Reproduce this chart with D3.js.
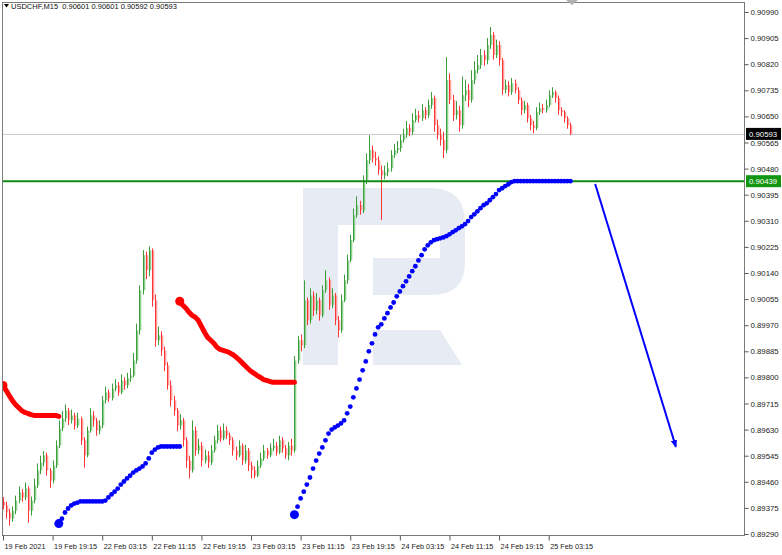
<!DOCTYPE html>
<html><head><meta charset="utf-8">
<script src="https://cdn.jsdelivr.net/npm/d3@7"></script>
<style>
body{margin:0;background:#fff;}
svg{display:block;font-family:"Liberation Sans",Arial,sans-serif;}
</style>
</head><body>
<svg id="c" width="782" height="555"></svg>
<script>
// ---- data (prices in points, 1 point = 0.00001) ----
const POINT = 1e-5;
const symbolTitle = "USDCHF,M15  0.90601 0.90601 0.90592 0.90593";
// each candle = 2 x M15 bars
const opens = [89395,89383,89360,89340,89366,89399,89425,89409,89438,89366,
89399,89448,89497,89523,89546,89497,89464,89513,89578,89634,
89666,89692,89660,89676,89643,89666,89595,89546,89627,89676,
89660,89627,89643,89725,89751,89732,89764,89774,89751,89790,
89774,89797,89806,89855,89953,90084,90198,90149,90214,90051,
89921,89937,89888,89839,89774,89725,89692,89643,89660,89595,
89529,89497,89627,89562,89578,89529,89546,89523,89562,89595,
89627,89601,89627,89611,89595,89562,89546,89578,89529,89562,
89513,89497,89480,89513,89536,89562,89546,89569,89578,89555,
89595,89569,89546,89578,89562,89855,89921,89904,90051,89986,
90067,90018,90051,90002,90084,90116,90035,90067,89986,89953,
90051,90116,90181,90247,90328,90361,90344,90442,90507,90540,
90514,90507,90475,90458,90468,90481,90524,90540,90547,90573,
90589,90612,90599,90638,90654,90644,90670,90654,90687,90710,
90621,90589,90573,90540,90768,90703,90654,90670,90621,90719,
90736,90703,90768,90801,90817,90850,90833,90882,90915,90850,
90882,90833,90736,90752,90729,90758,90736,90703,90670,90687,
90644,90621,90612,90664,90677,90670,90687,90719,90729,90710,
90670,90664,90644,90621];
const highs = [89410,89395,89372,89380,89415,89445,89436,89458,89445,89412,
89470,89520,89545,89560,89555,89505,89530,89595,89660,89690,
89712,89700,89695,89685,89685,89672,89605,89640,89700,89690,
89668,89660,89740,89770,89760,89780,89795,89785,89810,89800,
89815,89830,89880,89975,90100,90215,90210,90227,90220,90070,
89965,89950,89900,89850,89790,89740,89700,89680,89668,89605,
89545,89660,89640,89600,89590,89565,89560,89580,89610,89645,
89640,89650,89640,89620,89605,89575,89595,89585,89580,89570,
89525,89510,89530,89555,89580,89570,89585,89600,89590,89610,
89605,89580,89590,89600,89870,89935,89940,90116,90060,90090,
90080,90075,90060,90100,90149,90125,90090,90075,90000,90070,
90135,90200,90265,90350,90390,90375,90458,90530,90589,90555,
90535,90520,90490,90490,90500,90540,90560,90570,90590,90610,
90635,90625,90660,90675,90668,90690,90680,90705,90729,90718,
90640,90610,90600,90843,90790,90720,90700,90685,90780,90770,
90755,90800,90830,90850,90870,90865,90905,90941,90925,90900,
90895,90840,90770,90765,90775,90770,90745,90712,90700,90695,
90655,90635,90680,90695,90690,90705,90735,90745,90735,90718,
90680,90670,90650,90630];
const lows = [89370,89340,89317,89330,89355,89390,89395,89400,89327,89350,
89390,89440,89485,89510,89480,89440,89455,89505,89570,89625,
89655,89645,89650,89630,89635,89580,89506,89540,89620,89640,
89610,89615,89635,89715,89720,89725,89755,89740,89745,89760,
89765,89785,89800,89845,89940,90070,90120,90130,90030,89900,
89905,89870,89820,89760,89705,89675,89625,89630,89575,89505,
89471,89490,89545,89550,89510,89520,89505,89515,89555,89585,
89590,89595,89600,89580,89545,89530,89540,89515,89520,89495,
89471,89472,89475,89505,89528,89535,89540,89560,89545,89550,
89555,89535,89530,89545,89555,89845,89885,89895,89970,89975,
90000,90005,89985,89995,90075,90020,90025,89970,89930,89945,
90045,90105,90175,90240,90320,90330,90335,90430,90495,90500,
90490,90460,90312,90445,90455,90470,90515,90530,90535,90565,
90580,90585,90590,90630,90630,90635,90640,90645,90675,90600,
90575,90555,90514,90530,90690,90635,90640,90600,90610,90700,
90680,90695,90755,90790,90805,90815,90820,90870,90835,90840,
90815,90720,90725,90715,90720,90725,90690,90655,90660,90630,
90605,90595,90605,90655,90660,90662,90680,90710,90695,90655,
90650,90630,90610,90590];
const closes = [89383,89360,89340,89366,89399,89425,89409,89438,89366,89399,
89448,89497,89523,89546,89497,89464,89513,89578,89634,89666,
89692,89660,89676,89643,89666,89595,89546,89627,89676,89660,
89627,89643,89725,89751,89732,89764,89774,89751,89790,89774,
89797,89806,89855,89953,90084,90198,90149,90214,90051,89921,
89937,89888,89839,89774,89725,89692,89643,89660,89595,89529,
89497,89627,89562,89578,89529,89546,89523,89562,89595,89627,
89601,89627,89611,89595,89562,89546,89578,89529,89562,89513,
89497,89480,89513,89536,89562,89546,89569,89578,89555,89595,
89569,89546,89578,89562,89855,89921,89904,90051,89986,90067,
90018,90051,90002,90084,90116,90035,90067,89986,89953,90051,
90116,90181,90247,90328,90361,90344,90442,90507,90540,90514,
90507,90475,90458,90468,90481,90524,90540,90547,90573,90589,
90612,90599,90638,90654,90644,90670,90654,90687,90710,90621,
90589,90573,90540,90768,90703,90654,90670,90621,90719,90736,
90703,90768,90801,90817,90850,90833,90882,90915,90850,90882,
90833,90736,90752,90729,90758,90736,90703,90670,90687,90644,
90621,90612,90664,90677,90670,90687,90719,90729,90710,90670,
90664,90644,90621,90593];

// indicator segments (start = candle index)
const redAStart = 0;
const redA = [89774,89758,89741,89725,89712,89702,89692,89686,89683,89679,89676,89676,89676,89676,89676,89676,89676,89676,89673];
const redBStart = 57;
const redB = [90048,90035,90025,90012,90002,89996,89986,89966,89947,89930,89921,89911,89898,89891,89888,89885,89881,89875,89868,89859,89849,89839,89829,89820,89813,89806,89800,89793,89790,89787,89784,89784,89784,89784,89784,89784,89784,89784];
const blueAStart = 18;
const blueA = [89324,89340,89360,89373,89383,89389,89392,89396,89396,89396,89396,89396,89396,89396,89396,89399,89409,89419,89428,89438,89451,89461,89471,89480,89490,89497,89503,89510,89520,89536,89555,89565,89572,89575,89575,89575,89575,89575,89575,89575];
const blueBStart = 94;
const blueB = [89353,89379,89406,89428,89451,89474,89503,89529,89552,89572,89595,89617,89630,89637,89643,89650,89660,89683,89705,89735,89764,89793,89823,89852,89885,89911,89940,89963,89973,89992,90009,90028,90044,90064,90080,90097,90113,90129,90146,90162,90181,90198,90217,90230,90240,90247,90250,90253,90256,90260,90266,90273,90279,90286,90292,90299,90309,90322,90331,90341,90351,90361,90367,90377,90387,90397,90410,90416,90423,90429,90436,90439,90439,90439,90439,90439,90439,90439,90439,90439,90439,90439,90439,90439,90439,90439,90439,90439,90439,90439];

const levelGreen = 0.90439;
const levelBid = 0.90593;
const arrowFrom = {bar: 382, price: 0.90430};
const arrowTo = {bar: 434, price: 0.89575};

const priceTicks = [0.89290,0.89375,0.89460,0.89545,0.89630,0.89715,0.89800,0.89885,0.89970,0.90055,0.90140,0.90225,0.90310,0.90395,0.90480,0.90565,0.90650,0.90735,0.90820,0.90905,0.90990];
const timeTickBars = [0,32,64,96,128,160,192,224,256,288,320,352];
const timeTickLabels = ["19 Feb 2021","19 Feb 19:15","22 Feb 03:15","22 Feb 11:15","22 Feb 19:15","23 Feb 03:15","23 Feb 11:15","23 Feb 19:15","24 Feb 03:15","24 Feb 11:15","24 Feb 19:15","25 Feb 03:15"];

// ---- drawing ----
const svg = d3.select("#c");
const L = 2, R = 744, T = 2, B = 535;
const x = d3.scaleLinear().domain([0, 478]).range([3, 744]);
const y = d3.scaleLinear().domain([0.89290, 0.90990]).range([534, 12]);
const barOf = k => 2 * k;

svg.append("rect").attr("width", 782).attr("height", 555).attr("fill", "#fff");

svg.append("defs").append("clipPath").attr("id", "plot")
  .append("rect").attr("x", L).attr("y", T).attr("width", R - L).attr("height", B - T);
svg.select("defs").append("marker").attr("id", "ah")
  .attr("viewBox", "0 0 10 10").attr("refX", 8).attr("refY", 5)
  .attr("markerWidth", 4).attr("markerHeight", 5).attr("orient", "auto")
  .append("path").attr("d", "M0,1 L10,5 L0,9 Z").attr("fill", "#0000ff");

const g = svg.append("g").attr("clip-path", "url(#plot)");

// watermark logo
g.append("path")
  .attr("d", "M303,188 H430 Q465,188 465,223 V262 Q465,295 432,295 H373 V258 H440 V225 H338 V365 H303 Z")
  .attr("fill", "#e7ecf4");
g.append("path").attr("d", "M373,330 H440 L462,365 H373 Z").attr("fill", "#e7ecf4");

// bid line
g.append("line").attr("x1", L).attr("x2", R).attr("y1", y(levelBid) + 0.5).attr("y2", y(levelBid) + 0.5)
  .attr("stroke", "#c8c8c8").attr("stroke-width", 1);

// candles
const candles = closes.map((c, k) => ({k, o: opens[k] * POINT, h: highs[k] * POINT, l: lows[k] * POINT, c: c * POINT}));
const cg = g.append("g");
cg.selectAll("line.w").data(candles).join("line").attr("class", "w")
  .attr("x1", d => Math.round(x(barOf(d.k))) + 0.5).attr("x2", d => Math.round(x(barOf(d.k))) + 0.5)
  .attr("y1", d => y(d.h)).attr("y2", d => y(d.l))
  .attr("stroke", d => d.c >= d.o ? "#3a9e3a" : "#ff3434").attr("stroke-width", 1);
cg.selectAll("rect.b").data(candles).join("rect").attr("class", "b")
  .attr("x", d => Math.round(x(barOf(d.k))) + 1)
  .attr("width", 1.3)
  .attr("y", d => y(Math.max(d.o, d.c)))
  .attr("height", d => Math.max(1, Math.abs(y(d.o) - y(d.c))))
  .attr("fill", d => d.c >= d.o ? "#8fcf8f" : "#ff9c9c");

// green horizontal level
g.append("line").attr("x1", L).attr("x2", R).attr("y1", y(levelGreen)).attr("y2", y(levelGreen))
  .attr("stroke", "#118a11").attr("stroke-width", 2);

// red indicator
function seg(arr, start) { return arr.map((v, i) => ({bar: barOf(start + i), p: v * POINT})); }
const lineGen = d3.line().x(d => x(d.bar)).y(d => y(d.p));
[[redA, redAStart], [redB, redBStart]].forEach(([arr, s]) => {
  const pts = seg(arr, s);
  g.append("path").attr("d", lineGen(pts)).attr("fill", "none")
    .attr("stroke", "#ff0000").attr("stroke-width", 5).attr("stroke-linecap", "round").attr("stroke-linejoin", "round");
  g.append("circle").attr("cx", x(pts[0].bar)).attr("cy", y(pts[0].p)).attr("r", 4.5).attr("fill", "#ff0000");
});
// blue indicator (dots)
[[blueA, blueAStart], [blueB, blueBStart]].forEach(([arr, s]) => {
  const pts = seg(arr, s);
  g.append("g").selectAll("circle").data(pts).join("circle")
    .attr("cx", d => x(d.bar)).attr("cy", d => y(d.p)).attr("r", 2.4).attr("fill", "#0000ff");
  g.append("circle").attr("cx", x(pts[0].bar)).attr("cy", y(pts[0].p)).attr("r", 4.5).attr("fill", "#0000ff");
});

// arrow
g.append("line")
  .attr("x1", x(arrowFrom.bar)).attr("y1", y(arrowFrom.price))
  .attr("x2", x(arrowTo.bar)).attr("y2", y(arrowTo.price))
  .attr("stroke", "#0000ff").attr("stroke-width", 2).attr("marker-end", "url(#ah)");

// frame
svg.append("rect").attr("x", L + 0.5).attr("y", T + 0.5).attr("width", R - L).attr("height", B - T)
  .attr("fill", "none").attr("stroke", "#7a7a7a").attr("stroke-width", 1);

// shift marker
svg.append("path").attr("d", "M566,0 L578,0 L572,5 Z").attr("fill", "#b0b0b0");

// right axis
const ya = svg.append("g").attr("transform", `translate(${R + 0.5},0)`)
  .call(d3.axisRight(y).tickValues(priceTicks).tickFormat(d3.format(".5f")).tickSize(4).tickPadding(2));
ya.select(".domain").remove();
ya.selectAll("line").attr("stroke", "#555");
ya.selectAll("text").attr("font-size", 7.8).attr("fill", "#222").attr("font-family", "Liberation Sans, Arial, sans-serif");

// bottom axis
const xa = svg.append("g").attr("transform", `translate(0,${B + 0.5})`)
  .call(d3.axisBottom(x).tickValues(timeTickBars).tickFormat((d, i) => timeTickLabels[i]).tickSize(5).tickPadding(3));
xa.select(".domain").remove();
xa.selectAll("line").attr("stroke", "#555");
xa.selectAll("text").attr("text-anchor", "start").attr("dx", 1).attr("font-size", 7.3).attr("fill", "#222")
  .attr("font-family", "Liberation Sans, Arial, sans-serif");

// price labels
function priceBox(p, bg) {
  const yy = y(p);
  svg.append("rect").attr("x", R + 2).attr("y", yy - 6).attr("width", 35).attr("height", 12).attr("fill", bg);
  svg.append("text").attr("x", R + 5).attr("y", yy + 3).text(d3.format(".5f")(p))
    .attr("font-size", 7.8).attr("fill", "#fff");
}
priceBox(levelBid, "#000");
priceBox(levelGreen, "#129612");

// title
svg.append("path").attr("d", "M4,4 L9,4 L6.5,7.5 Z").attr("fill", "#000");
svg.append("text").attr("x", 11).attr("y", 9).attr("font-size", 7.5).attr("fill", "#111")
  .attr("xml:space", "preserve").style("white-space", "pre").text(symbolTitle);
</script>
</body></html>
